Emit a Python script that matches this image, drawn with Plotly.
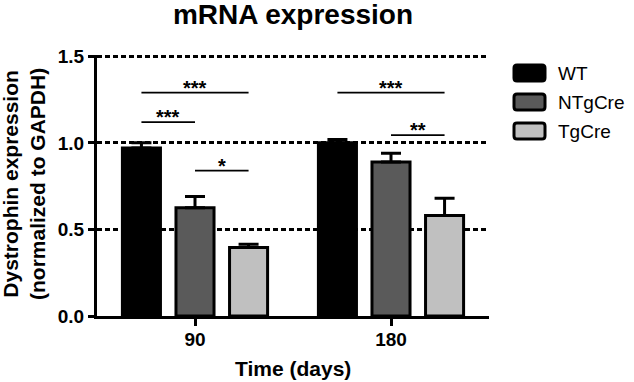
import plotly.graph_objects as go

# ---- data ----
times = ["90", "180"]
groups = ["WT", "NTgCre", "TgCre"]
wt_mean = [0.97, 1.00]
wt_err = [0.03, 0.02]
ntg_mean = [0.625, 0.89]
ntg_err = [0.065, 0.05]
tg_mean = [0.395, 0.58]
tg_err = [0.02, 0.10]

sig_time = [0, 0, 0, 1, 1]
sig_from = ["WT", "WT", "NTgCre", "WT", "NTgCre"]
sig_to = ["TgCre", "NTgCre", "TgCre", "TgCre", "TgCre"]
sig_label = ["***", "***", "*", "***", "**"]
sig_level = [1.29, 1.12, 0.84, 1.29, 1.045]

y_max = 1.5
y_step = 0.5

# ---- style ----
colors = ["#000000", "#5a5a5a", "#c0c0c0"]
FONT = "Liberation Sans, Arial, Helvetica, sans-serif"
W, H = 634, 382
ML, MR, MT, MB = 97, 145, 55, 66
PW, PH = W - ML - MR, H - MT - MB
BARGAP, GROUPGAP = 0.18, 0.29
GRID = dict(color="black", width=2.5, dash="5px,3px")

means = [wt_mean, ntg_mean, tg_mean]
errs = [wt_err, ntg_err, tg_err]
xpos = list(range(len(times)))

fig = go.Figure()
for g, m, e, c in zip(groups, means, errs, colors):
    fig.add_trace(go.Bar(
        x=xpos, y=m, name=g, showlegend=False,
        marker=dict(color=c, line=dict(color="black", width=3)),
        error_y=dict(type="data", array=e, arrayminus=[0] * len(e), symmetric=False,
                     color="black", thickness=3, width=10),
    ))

slot = (1 - BARGAP) / len(groups)


def center(t, g):
    return t + (groups.index(g) - (len(groups) - 1) / 2) * slot


shapes = []
annotations = []

# top gridline (plotly omits the gridline sitting on the range edge)
shapes.append(dict(type="line", xref="paper", yref="y", x0=0, x1=1, y0=y_max, y1=y_max,
                   line=GRID, layer="below"))

for t, a, b, lab, lev in zip(sig_time, sig_from, sig_to, sig_label, sig_level):
    x0, x1 = center(t, a), center(t, b)
    shapes.append(dict(type="line", xref="x", yref="y", x0=x0, x1=x1, y0=lev, y1=lev,
                       line=dict(color="black", width=1.7)))
    annotations.append(dict(xref="x", yref="y", x=(x0 + x1) / 2, y=lev, text=lab,
                            showarrow=False, yanchor="middle", yshift=5,
                            font=dict(family=FONT, size=20, color="black", weight="bold")))


# pixel -> paper coordinate helpers
def px_x(p):
    return (p - ML) / PW


def px_y(p):
    return (H - MB - p) / PH


def rounded_rect(x0, y0, x1, y1, r):
    # pixel rectangle with rounded corners, expressed as a paper-coordinate SVG path
    pts = [
        ("M", x0 + r, y0), ("L", x1 - r, y0), ("Q", x1, y0, x1, y0 + r),
        ("L", x1, y1 - r), ("Q", x1, y1, x1 - r, y1), ("L", x0 + r, y1),
        ("Q", x0, y1, x0, y1 - r), ("L", x0, y0 + r), ("Q", x0, y0, x0 + r, y0),
    ]
    out = []
    for p in pts:
        cmd, vals = p[0], p[1:]
        coords = []
        for k in range(0, len(vals), 2):
            coords.append(f"{px_x(vals[k]):.5f},{px_y(vals[k + 1]):.5f}")
        out.append(cmd + " " + " ".join(coords))
    return " ".join(out) + " Z"


# legend (manual, large swatches)
for i, (g, c) in enumerate(zip(groups, colors)):
    cy = 73 + 29 * i
    shapes.append(dict(type="path", xref="paper", yref="paper",
                       path=rounded_rect(514, cy - 8, 545, cy + 8, 3),
                       fillcolor=c, line=dict(color="black", width=3)))
    annotations.append(dict(xref="paper", yref="paper", x=px_x(556), y=px_y(cy),
                            xanchor="left", yanchor="middle", text=g, showarrow=False,
                            font=dict(family=FONT, size=19, color="black")))

# axis titles
annotations.append(dict(xref="paper", yref="paper", x=px_x(24), y=px_y(184), textangle=-90,
                        text="Dystrophin expression<br>(normalized to GAPDH)",
                        showarrow=False, xanchor="center", yanchor="middle",
                        font=dict(family=FONT, size=21, color="black", weight="bold")))
annotations.append(dict(xref="paper", yref="paper", x=0.5, y=px_y(368),
                        text="Time (days)", showarrow=False, xanchor="center", yanchor="middle",
                        font=dict(family=FONT, size=21, color="black", weight="bold")))

fig.update_layout(
    width=W, height=H,
    margin=dict(l=ML, r=MR, t=MT, b=MB),
    paper_bgcolor="white", plot_bgcolor="white",
    barmode="group", bargap=BARGAP, bargroupgap=GROUPGAP,
    title=dict(text="mRNA expression", x=0.5, xref="paper", xanchor="center",
               y=1 - 14 / H, yref="container", yanchor="middle",
               font=dict(family=FONT, size=28, color="black", weight="bold")),
    font=dict(family=FONT, color="black"),
    shapes=shapes, annotations=annotations,
    xaxis=dict(range=[-0.5, 1.5], tickvals=xpos, ticktext=times,
               showline=True, linewidth=3, linecolor="black",
               ticks="outside", ticklen=7, tickwidth=3, tickcolor="black",
               showgrid=False, zeroline=False, ticklabelstandoff=-3,
               tickfont=dict(family=FONT, size=19, color="black", weight="bold")),
    yaxis=dict(range=[0, y_max * 1.005], tick0=0, dtick=y_step, tickformat=".1f",
               showline=True, linewidth=3, linecolor="black",
               ticks="outside", ticklen=6, tickwidth=3, tickcolor="black",
               showgrid=True, gridcolor=GRID["color"], gridwidth=GRID["width"],
               griddash=GRID["dash"], zeroline=False,
               tickfont=dict(family=FONT, size=19, color="black", weight="bold")),
)

# remove the browser's default 8px page margin so the figure sits at the window origin
fig.write_html("out.html", config={"displayModeBar": False},
               post_script="document.body.style.margin='0px';document.body.style.overflow='hidden';")
